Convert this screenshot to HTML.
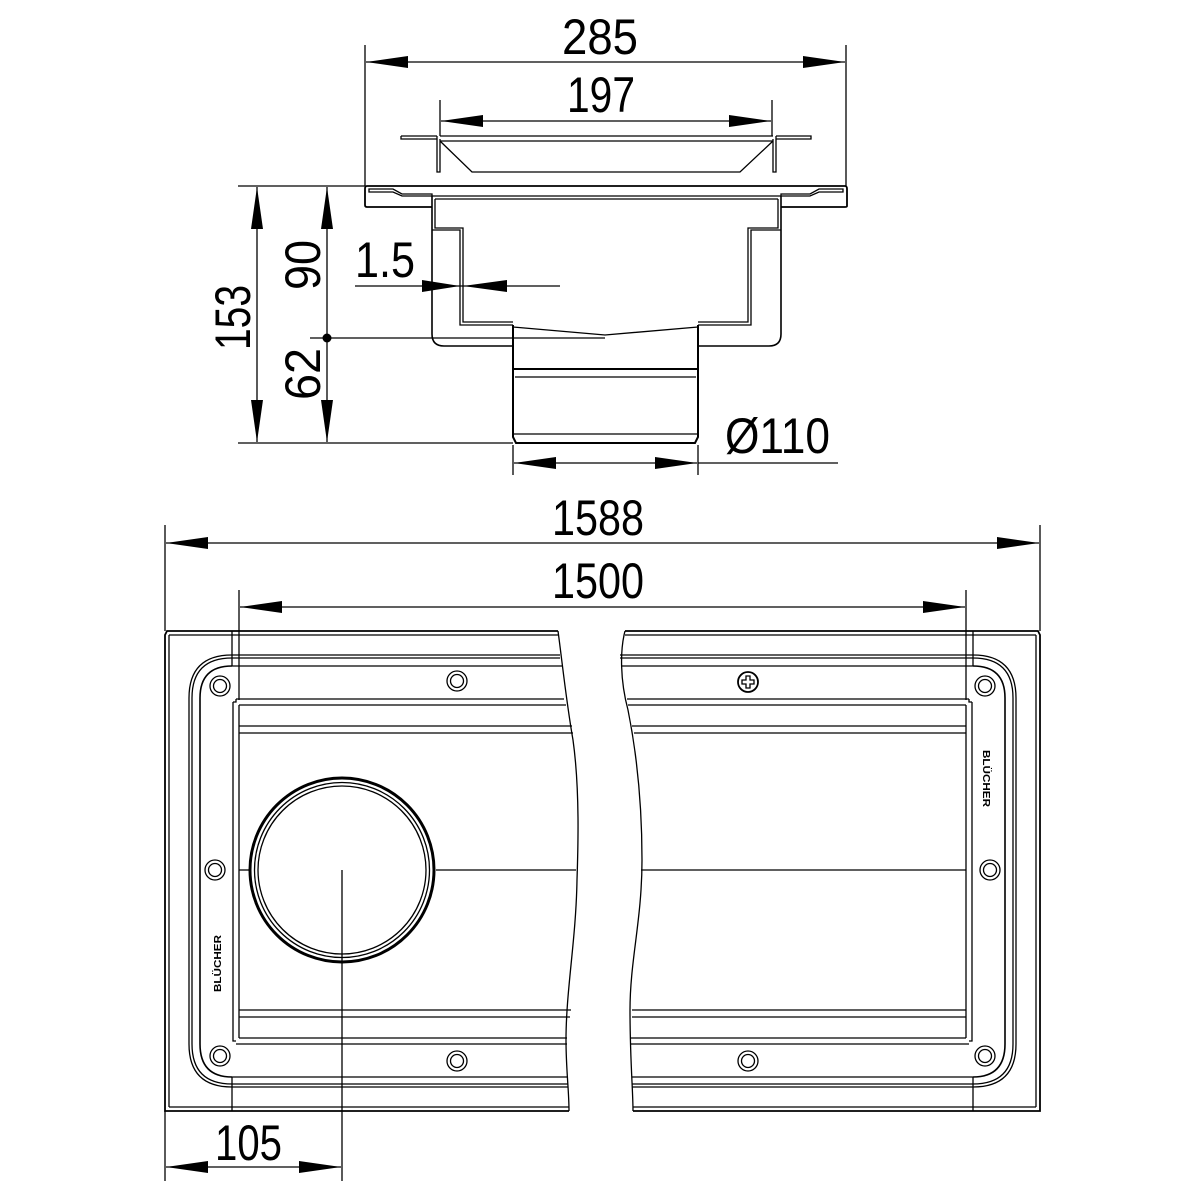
<!DOCTYPE html>
<html><head><meta charset="utf-8"><style>html,body{margin:0;padding:0;background:#fff}svg{display:block}</style></head>
<body>
<svg width="1181" height="1181" viewBox="0 0 1181 1181" xmlns="http://www.w3.org/2000/svg" font-family="Liberation Sans, sans-serif">
<defs>
<marker id="a" viewBox="0 0 42 12" refX="42" refY="6" markerWidth="42" markerHeight="12" markerUnits="userSpaceOnUse" orient="auto-start-reverse"><path d="M0,0 L42,6 L0,12 Z" fill="#000"/></marker>
</defs>
<g stroke="#000" fill="none" stroke-width="1.3">
<!-- ===== TOP VIEW dims ===== -->
<line x1="365" y1="45" x2="365" y2="186"/><line x1="846" y1="45" x2="846" y2="186"/>
<line x1="366" y1="62" x2="845" y2="62" marker-start="url(#a)" marker-end="url(#a)"/>
<line x1="440" y1="100" x2="440" y2="136"/><line x1="772" y1="100" x2="772" y2="136"/>
<line x1="441" y1="121" x2="771" y2="121" marker-start="url(#a)" marker-end="url(#a)"/>
<!-- vertical dims -->
<line x1="238" y1="186" x2="365" y2="186"/>
<line x1="238" y1="443" x2="513" y2="443"/>
<line x1="310" y1="338" x2="605" y2="338"/>
<line x1="257" y1="187" x2="257" y2="442" marker-start="url(#a)" marker-end="url(#a)"/>
<line x1="327" y1="187" x2="327" y2="442" marker-start="url(#a)" marker-end="url(#a)"/>
<circle cx="327" cy="338" r="4.5" fill="#000" stroke="none"/>
<!-- 1.5 -->
<line x1="355" y1="286" x2="560" y2="286"/>
<path d="M422,280 L460,286 L422,292 Z M507,280 L463,286 L507,292 Z" fill="#000" stroke="none"/>
<!-- Ø110 -->
<line x1="513" y1="445" x2="513" y2="475"/><line x1="698" y1="445" x2="698" y2="475"/>
<line x1="514" y1="463" x2="697" y2="463" marker-start="url(#a)" marker-end="url(#a)"/>
<line x1="698" y1="463" x2="838" y2="463"/>
<!-- grate -->
<path d="M401,136 L437,136 M776,136 L811,136 L811,139 L776,139 M401,136 L401,139 L437,139"/>
<path d="M437,136 L437,172 L440,172 L440,139 M776,136 L776,172 L773,172 L773,139"/>
<line x1="440" y1="136" x2="773" y2="136"/>
<line x1="440" y1="141" x2="773" y2="141"/>
<path d="M440,141 L472,172 L740,172 L773,141"/>
<!-- frame flange -->
<path d="M367,186 L845,186 Q847,186 847,189 L847,206 Q847,207 845,207 L781,207" stroke-width="1.8"/>
<path d="M432,207 L367,207 Q365,207 365,205 L365,189 Q365,186 367,186" stroke-width="1.8"/>
<path d="M369,189 L393,189 L402,194 L432,194 L432,196 L402,196 L393,192 L369,192 Z"/>
<path d="M843,189 L819,189 L810,194 L781,194 L781,196 L810,196 L819,192 L843,192 Z"/>
<line x1="432" y1="196" x2="781" y2="196"/>
<line x1="435" y1="199" x2="778" y2="199"/>
<!-- body outer -->
<path d="M432,196 L432,334 Q432,346 444,346 L513,346" stroke-width="1.6"/>
<path d="M781,196 L781,334 Q781,346 769,346 L698,346" stroke-width="1.6"/>
<path d="M435,199 L435,228 L463,228 L463,322 L513,322"/>
<path d="M432,230 L460,230 L460,325 L513,325"/>
<path d="M778,199 L778,228 L748,228 L748,322 L698,322"/>
<path d="M781,230 L751,230 L751,325 L698,325"/>
<path d="M513,327 L605,335 L698,327"/>
<!-- outlet -->
<path d="M513,325 L513,437 L516,443 L695,443 L698,437 L698,325" stroke-width="2"/>
<line x1="513" y1="369" x2="698" y2="369" stroke-width="2"/>
<line x1="515" y1="377" x2="696" y2="377"/>
<line x1="514" y1="434" x2="697" y2="434"/>

<!-- ===== BOTTOM VIEW ===== -->
<line x1="165" y1="525" x2="165" y2="631"/><line x1="1040" y1="525" x2="1040" y2="631"/>
<line x1="166" y1="543" x2="1039" y2="543" marker-start="url(#a)" marker-end="url(#a)"/>
<line x1="239" y1="590" x2="239" y2="700"/><line x1="966" y1="590" x2="966" y2="700"/>
<line x1="240" y1="607" x2="965" y2="607" marker-start="url(#a)" marker-end="url(#a)"/>
<line x1="165" y1="1111" x2="165" y2="1181"/>
<line x1="342" y1="870" x2="342" y2="1181"/>
<line x1="166" y1="1167" x2="341" y2="1167" marker-start="url(#a)" marker-end="url(#a)"/>

<!-- left piece -->
<path d="M558,631 L167,631 L165,635 L165,1111 L569,1111" stroke-width="1.8"/>
<line x1="169" y1="635" x2="169" y2="1107"/>
<line x1="169" y1="635" x2="558" y2="635"/>
<line x1="169" y1="1107" x2="569" y2="1107"/>
<line x1="232" y1="631" x2="232" y2="666"/>
<line x1="232" y1="1077" x2="232" y2="1111"/>
<path d="M232,655 Q189,655 189,698 L189,1044 Q189,1087 232,1087"/>
<path d="M232,658 Q192,658 192,698 L192,1044 Q192,1084 232,1084"/>
<path d="M232,666 Q200,666 200,698 L200,1044 Q200,1077 232,1077" stroke-width="1.6"/>
<path d="M232,666 L562,666 M232,655 L560,655 M232,658 L560,658"/>
<path d="M232,1077 L568,1077 M232,1087 L568,1087 M232,1084 L568,1084"/>
<path d="M233,702 L233,1041 L236,1041 M239,705 L239,1038 M233,702 L236,702 L236,699" />
<path d="M236,699 L564,699 M239,705 L566,705 M239,726 L572,726 M239,733 L573,733" />
<path d="M236,1044 L567,1044 M239,1038 L567,1038 M239,1017 L570,1017 M239,1010 L571,1010"/>
<!-- break left edge -->
<path d="M558,631 C562,660 566,700 573,740 C580,790 578,850 577,880 C576,940 566,990 566,1040 C566,1070 569,1090 569,1111"/>
<!-- right piece -->
<path d="M625,631 L1038,631 L1040,635 L1040,1111 L633,1111" stroke-width="1.8"/>
<line x1="1036" y1="635" x2="1036" y2="1107"/>
<line x1="625" y1="635" x2="1036" y2="635"/>
<line x1="633" y1="1107" x2="1036" y2="1107"/>
<line x1="973" y1="631" x2="973" y2="666"/>
<line x1="973" y1="1077" x2="973" y2="1111"/>
<path d="M973,655 Q1016,655 1016,698 L1016,1044 Q1016,1087 973,1087"/>
<path d="M973,658 Q1013,658 1013,698 L1013,1044 Q1013,1084 973,1084"/>
<path d="M973,666 Q1005,666 1005,698 L1005,1044 Q1005,1077 973,1077" stroke-width="1.6"/>
<path d="M620,655 L973,655 M620,658 L973,658 M622,666 L973,666"/>
<path d="M632,1077 L973,1077 M632,1087 L973,1087 M632,1084 L973,1084"/>
<path d="M972,702 L972,1041 L969,1041 M966,705 L966,1038 M972,702 L969,702 L969,699"/>
<path d="M627,699 L969,699 M628,705 L966,705 M632,726 L966,726 M634,733 L966,733"/>
<path d="M631,1044 L969,1044 M631,1038 L966,1038 M632,1017 L966,1017 M632,1010 L966,1010"/>
<path d="M625,631 C620,650 620,680 628,710 C636,750 642,800 642,860 C642,920 630,960 630,1010 C630,1060 633,1090 633,1111"/>
<!-- circle -->
<circle cx="342" cy="870" r="92" stroke-width="3"/>
<circle cx="342" cy="870" r="87.5"/>
<circle cx="342" cy="870" r="84"/>
<line x1="239" y1="870" x2="250" y2="870"/>
<line x1="436" y1="870" x2="576" y2="870"/>
<line x1="641" y1="870" x2="966" y2="870"/>
<!-- holes -->
<g>
<circle cx="220" cy="686" r="10"/><circle cx="220" cy="686" r="6.5"/>
<circle cx="220" cy="1056" r="10"/><circle cx="220" cy="1056" r="6.5"/>
<circle cx="215" cy="870" r="10"/><circle cx="215" cy="870" r="6.5"/>
<circle cx="457" cy="681" r="10"/><circle cx="457" cy="681" r="6.5"/>
<circle cx="457" cy="1061" r="10"/><circle cx="457" cy="1061" r="6.5"/>
<circle cx="985" cy="686" r="10"/><circle cx="985" cy="686" r="6.5"/>
<circle cx="985" cy="1056" r="10"/><circle cx="985" cy="1056" r="6.5"/>
<circle cx="990" cy="870" r="10"/><circle cx="990" cy="870" r="6.5"/>
<circle cx="748" cy="1061" r="10"/><circle cx="748" cy="1061" r="6.5"/>
<circle cx="748" cy="682" r="10" stroke-width="1.8"/>
<path d="M746,676 L750,676 L750,680 L754,680 L754,684 L750,684 L750,688 L746,688 L746,684 L742,684 L742,680 L746,680 Z"/>
</g>
</g>
<!-- texts -->
<g fill="#000" font-size="50">
<text x="562" y="54" textLength="76" lengthAdjust="spacingAndGlyphs">285</text>
<text x="567" y="112" textLength="68" lengthAdjust="spacingAndGlyphs">197</text>
<text x="355" y="277" textLength="60" lengthAdjust="spacingAndGlyphs">1.5</text>
<text transform="translate(250,350) rotate(-90)" textLength="65" lengthAdjust="spacingAndGlyphs">153</text>
<text transform="translate(320,290) rotate(-90)" textLength="50" lengthAdjust="spacingAndGlyphs">90</text>
<text transform="translate(320,400) rotate(-90)" textLength="52" lengthAdjust="spacingAndGlyphs">62</text>
<text x="725" y="453" textLength="105" lengthAdjust="spacingAndGlyphs">Ø110</text>
<text x="552" y="535" textLength="92" lengthAdjust="spacingAndGlyphs">1588</text>
<text x="552" y="598" textLength="92" lengthAdjust="spacingAndGlyphs">1500</text>
<text x="215" y="1160" textLength="67" lengthAdjust="spacingAndGlyphs">105</text>
</g>
<g fill="#000" font-size="10" font-weight="bold">
<text transform="translate(221,992) rotate(-90)" textLength="57" lengthAdjust="spacingAndGlyphs">BLÜCHER</text>
<text transform="translate(983,750) rotate(90)" textLength="57" lengthAdjust="spacingAndGlyphs">BLÜCHER</text>
</g>
</svg>
</body></html>
